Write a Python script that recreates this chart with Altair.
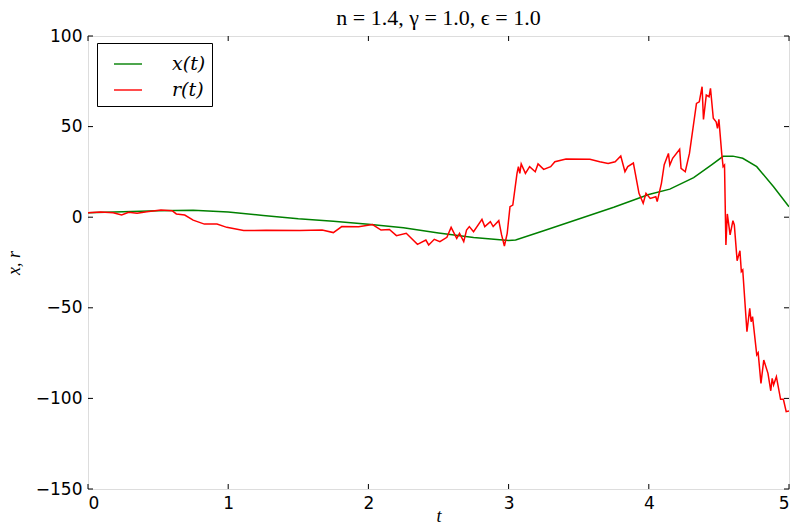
import altair as alt
import pandas as pd

# green series x(t)
t_x = [0, 0.25, 0.5, 0.75, 1.0, 1.25, 1.5, 1.75, 2.0, 2.25, 2.5, 2.75, 3.0, 3.05,
       3.25, 3.5, 3.75, 4.0, 4.15, 4.32, 4.45, 4.53, 4.6, 4.67, 4.77, 4.89, 5.0]
x_vals = [2.5, 3.0, 3.5, 3.8, 2.9, 1.0, -0.9, -2.3, -3.9, -5.8, -8.7, -11.2, -12.8, -12.6,
          -7.5, -1.0, 5.5, 12.5, 15.5, 21.8, 29.0, 33.6, 33.7, 32.5, 27.9, 16.8, 5.8]

# red series r(t)
t_r = [0, 0.09, 0.18, 0.24, 0.29, 0.35, 0.42, 0.52, 0.6, 0.63, 0.69, 0.75, 0.83, 0.92,
       0.99, 1.11, 1.27, 1.51, 1.67, 1.75, 1.81, 1.93, 2.03, 2.09, 2.15, 2.2, 2.27, 2.35,
       2.41, 2.43, 2.47, 2.51, 2.56, 2.59, 2.63, 2.65, 2.68, 2.70, 2.72, 2.75, 2.81, 2.83,
       2.87, 2.89, 2.93, 2.95, 2.97, 2.99, 3.01, 3.03, 3.06, 3.07, 3.08, 3.09, 3.12, 3.15,
       3.19, 3.21, 3.25, 3.3, 3.33, 3.41, 3.58, 3.65, 3.71, 3.76, 3.8, 3.83, 3.85, 3.89,
       3.93, 3.96, 3.98, 4.01, 4.05, 4.06, 4.09, 4.11, 4.14, 4.15, 4.17, 4.22, 4.23, 4.26,
       4.29, 4.34, 4.36, 4.38, 4.39, 4.41, 4.43, 4.44, 4.46, 4.48, 4.49, 4.50, 4.52, 4.53,
       4.54, 4.55, 4.56, 4.58, 4.60, 4.61, 4.63, 4.65, 4.66, 4.67, 4.70, 4.72, 4.73, 4.74,
       4.77, 4.78, 4.80, 4.82, 4.85, 4.87, 4.88, 4.89, 4.91, 4.94, 4.96, 4.98, 5.0]
r_vals = [2.5, 2.9, 2.5, 1.2, 2.7, 2.2, 3.0, 4.0, 3.6, 1.8, 1.2, -1.6, -3.8, -3.8,
          -5.6, -7.4, -7.2, -7.4, -7.1, -8.5, -5.2, -5.3, -4.1, -7.1, -6.8, -10.2, -8.9, -15.0,
          -12.6, -15.3, -12.2, -13.5, -11.1, -5.6, -11.7, -8.9, -13.5, -7.1, -5.2, -8.0, -1.2, -5.2,
          -2.5, -5.2, -1.9, -9.8, -15.9, -8.9, 5.8, 6.7, 24.2, 27.9, 24.2, 29.4, 24.2, 27.9,
          25.1, 29.4, 26.4, 27.9, 30.6, 32.1, 32.0, 30.6, 29.7, 30.6, 33.8, 25.1, 27.9, 29.9,
          13.2, 7.7, 13.2, 10.4, 11.3, 8.6, 18.7, 29.0, 35.2, 28.8, 32.5, 37.5, 27.0, 25.1,
          35.2, 62.8, 63.7, 72.0, 54.0, 67.4, 66.5, 71.1, 54.6, 52.7, 49.0, 54.0, 35.2, 27.9,
          28.8, -15.3, 1.8, -9.8, -1.9, -4.3, -24.0, -18.5, -30.0, -29.1, -63.2, -50.3, -57.7, -54.9,
          -76.0, -74.8, -91.7, -78.8, -86.2, -95.8, -88.9, -92.6, -88.0, -100.5, -100.5, -107.3, -107.0]

series_names = ["x(t)", "r(t)"]
series_colors = ["#008000", "#ff0000"]
x_ticks = [0, 1, 2, 3, 4, 5]
y_ticks = [-150, -100, -50, 0, 50, 100]

W, H = 701, 453

df_x = pd.DataFrame({"t": t_x, "v": x_vals, "series": series_names[0]})
df_r = pd.DataFrame({"t": t_r, "v": r_vals, "series": series_names[1]})

xscale = alt.Scale(domain=[0, 5], nice=False, zero=False)
yscale = alt.Scale(domain=[-150, 100], nice=False, zero=False)
cscale = alt.Scale(domain=series_names, range=series_colors)

xaxis = alt.Axis(values=x_ticks, format="d", ticks=False, domain=False, grid=False, title="t",
                 labelFont="DejaVu Sans", labelFontSize=17, labelColor="black",
                 labelPadding=6, titleFont="Liberation Serif", titleFontStyle="italic",
                 titleFontSize=18, titleFontWeight="normal", titleColor="black",
                 titleY=27, titleBaseline="middle")
yaxis = alt.Axis(values=y_ticks, format="d", ticks=False, domain=False, grid=False, title="x, r",
                 labelFont="DejaVu Sans", labelFontSize=17, labelColor="black",
                 labelPadding=6, titleFont="Liberation Serif", titleFontStyle="italic",
                 titleFontSize=18, titleFontWeight="normal", titleColor="black", titlePadding=12)

legend = alt.Legend(orient="none", legendX=9, legendY=7, title=None,
                    strokeColor="black", fillColor="white", padding=6, cornerRadius=0,
                    symbolType="stroke", symbolSize=784, symbolStrokeWidth=1.4,
                    symbolOffset=10,
                    labelFont="DejaVu Serif", labelFontStyle="italic", labelFontSize=19,
                    labelColor="black", labelOffset=29, rowPadding=1, labelLimit=200,
                    labelExpr="datum.label + '\u00a0\u00a0\u00a0'")

def line(df):
    return alt.Chart(df).mark_line(strokeWidth=1.5, clip=True).encode(
        x=alt.X("t:Q", scale=xscale, axis=xaxis),
        y=alt.Y("v:Q", scale=yscale, axis=yaxis),
        color=alt.Color("series:N", scale=cscale, legend=legend, sort=series_names),
    )

tx = pd.DataFrame({"t": x_ticks})
ty = pd.DataFrame({"v": y_ticks})
tick_x_bot = alt.Chart(tx).mark_rule(color="black", strokeWidth=1).encode(
    x=alt.X("t:Q", scale=xscale), y=alt.value(H - 5), y2=alt.value(H))
tick_x_top = alt.Chart(tx).mark_rule(color="black", strokeWidth=1).encode(
    x=alt.X("t:Q", scale=xscale), y=alt.value(0), y2=alt.value(5))
tick_y_left = alt.Chart(ty).mark_rule(color="black", strokeWidth=1).encode(
    y=alt.Y("v:Q", scale=yscale), x=alt.value(0), x2=alt.value(5))
tick_y_right = alt.Chart(ty).mark_rule(color="black", strokeWidth=1).encode(
    y=alt.Y("v:Q", scale=yscale), x=alt.value(W - 5), x2=alt.value(W))

chart = alt.layer(
    line(df_x), line(df_r), tick_x_bot, tick_x_top, tick_y_left, tick_y_right
).properties(
    width=W, height=H,
    title=alt.TitleParams("n = 1.4,  γ = 1.0,  ϵ = 1.0", font="Liberation Serif",
                          fontSize=22, fontWeight="normal", color="black", offset=9, dy=12),
    autosize=alt.AutoSizeParams(type="none"),
    padding={"left": 88, "top": 36, "right": 3, "bottom": 36},
).configure_view(stroke="black", strokeWidth=1.2).configure(background="white")

chart.save("out.html", embed_options={"renderer": "svg", "actions": False})
